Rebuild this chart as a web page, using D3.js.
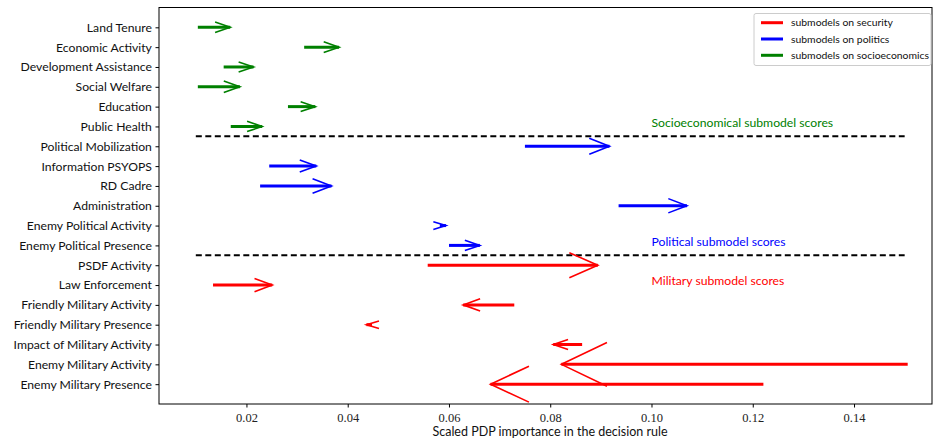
<!DOCTYPE html>
<html><head><meta charset="utf-8">
<script src="https://cdn.jsdelivr.net/npm/d3@7"></script>
<style>body{margin:0;background:#fff}</style>
</head><body>
<svg id="c" width="935" height="442"></svg>
<script>
const categories = ["Land Tenure","Economic Activity","Development Assistance","Social Welfare","Education","Public Health",
  "Political Mobilization","Information PSYOPS","RD Cadre","Administration","Enemy Political Activity","Enemy Political Presence",
  "PSDF Activity","Law Enforcement","Friendly Military Activity","Friendly Military Presence","Impact of Military Activity",
  "Enemy Military Activity","Enemy Military Presence"];
const startValues = [0.0104,0.0314,0.0155,0.0104,0.0282,0.0169,0.0750,0.0245,0.0227,0.0935,0.0582,0.0600,0.0558,0.0134,0.0729,0.0448,0.0863,0.1506,0.1221];
const endValues   = [0.0168,0.0383,0.0214,0.0187,0.0336,0.0231,0.0917,0.0338,0.0368,0.1070,0.0594,0.0661,0.0894,0.0251,0.0628,0.0437,0.0806,0.0822,0.0682];
const groups = ["socio","socio","socio","socio","socio","socio","politics","politics","politics","politics","politics","politics",
  "security","security","security","security","security","security","security"];
const legendLabels = ["submodels on security","submodels on politics","submodels on socioeconomics"];
const legendKeys = ["security","politics","socio"];
const xTicks = [0.02,0.04,0.06,0.08,0.10,0.12,0.14];
const separatorRows = [5.5, 11.5];
const separatorRange = [0.01, 0.15];
const sectionNotes = [
  {text:"Socioeconomical submodel scores", row:4.8, x:0.100, key:"socio"},
  {text:"Political submodel scores", row:10.8, x:0.100, key:"politics"},
  {text:"Military submodel scores", row:12.8, x:0.100, key:"security"}
];

const color = {security:"#ff0000", politics:"#0000ff", socio:"#008000"};
const sans = "Lato, 'Open Sans', sans-serif";
const serif = "'Liberation Serif', 'DejaVu Serif', serif";

const L = 159, R = 932, T = 7.5, B = 404;
const svg = d3.select("#c");
const x = d3.scaleLinear().domain([0.00273, 0.1554]).range([L, R]);
const y = d3.scaleLinear().domain([-1, 19]).range([T, B]);

// axes
const xAxis = d3.axisBottom(x).tickValues(xTicks).tickFormat(d3.format(".2f")).tickSize(3.5).tickSizeOuter(0);
const gx = svg.append("g").attr("transform", `translate(0,${B})`).call(xAxis);
gx.select(".domain").remove();
gx.selectAll("text").attr("font-family", serif).attr("font-size", 12.5).attr("fill","#222").attr("dy","0.95em");
gx.selectAll("line").attr("stroke","#000");

const yAxis = d3.axisLeft(y).tickValues(d3.range(categories.length)).tickFormat(i => categories[i]).tickSize(3.5).tickSizeOuter(0);
const gy = svg.append("g").attr("transform", `translate(${L},0)`).call(yAxis);
gy.select(".domain").remove();
gy.selectAll("text").attr("font-family", sans).attr("font-size", 12.2).attr("fill","#111").attr("dx","-0.05em");
gy.selectAll("line").attr("stroke","#000");

// frame
svg.append("rect").attr("x", L).attr("y", T).attr("width", R - L).attr("height", B - T)
  .attr("fill","none").attr("stroke","#000").attr("stroke-width",1);

// x label
svg.append("text").attr("x", 550).attr("y", 436).attr("text-anchor","middle")
  .attr("font-family", sans).attr("font-size", 12.5).attr("fill","#111")
  .text("Scaled PDP importance in the decision rule");

// separators
svg.selectAll("line.sep").data(separatorRows).join("line").attr("class","sep")
  .attr("x1", x(separatorRange[0])).attr("x2", x(separatorRange[1]))
  .attr("y1", d => y(d)).attr("y2", d => y(d))
  .attr("stroke","#000").attr("stroke-width",2).attr("stroke-dasharray","6,3.5");

// notes
svg.selectAll("text.note").data(sectionNotes).join("text").attr("class","note")
  .attr("x", d => x(d.x)).attr("y", d => y(d.row)).attr("dy","0.35em")
  .attr("font-family", sans).attr("font-size", 12.2).attr("fill", d => color[d.key])
  .text(d => d.text);

// arrows
const arrows = categories.map((c, i) => ({c, i, s: startValues[i], e: endValues[i], g: groups[i]}));
const ga = svg.selectAll("g.arrow").data(arrows).join("g").attr("class","arrow");
ga.append("line")
  .attr("x1", d => x(d.s)).attr("x2", d => x(d.e))
  .attr("y1", d => y(d.i)).attr("y2", d => y(d.i))
  .attr("stroke", d => color[d.g]).attr("stroke-width", 3);
ga.append("path")
  .attr("d", d => {
    const x0 = x(d.s), x1 = x(d.e), yy = y(d.i);
    const len = Math.abs(x1 - x0);
    const dir = x1 >= x0 ? 1 : -1;
    const hl = 12 + 0.097 * len, hw = 3.5 + 0.053 * len;
    return `M${x1 - dir*hl},${yy - hw}L${x1},${yy}L${x1 - dir*hl},${yy + hw}`;
  })
  .attr("fill","none").attr("stroke", d => color[d.g]).attr("stroke-width", 1.6);

// legend
const lg = svg.append("g");
lg.append("rect").attr("x", 754).attr("y", 13.5).attr("width", 177).attr("height", 52).attr("rx",2)
  .attr("fill","#fff").attr("stroke","#ccc").attr("stroke-width",1);
legendKeys.forEach((k, j) => {
  const yy = 22.7 + j * 16.3;
  lg.append("line").attr("x1", 761).attr("x2", 783).attr("y1", yy).attr("y2", yy)
    .attr("stroke", color[k]).attr("stroke-width", 3);
  lg.append("text").attr("x", 791).attr("y", yy).attr("dy","0.35em")
    .attr("font-family", sans).attr("font-size", 10.4).attr("fill","#111").text(legendLabels[j]);
});
</script>
</body></html>
